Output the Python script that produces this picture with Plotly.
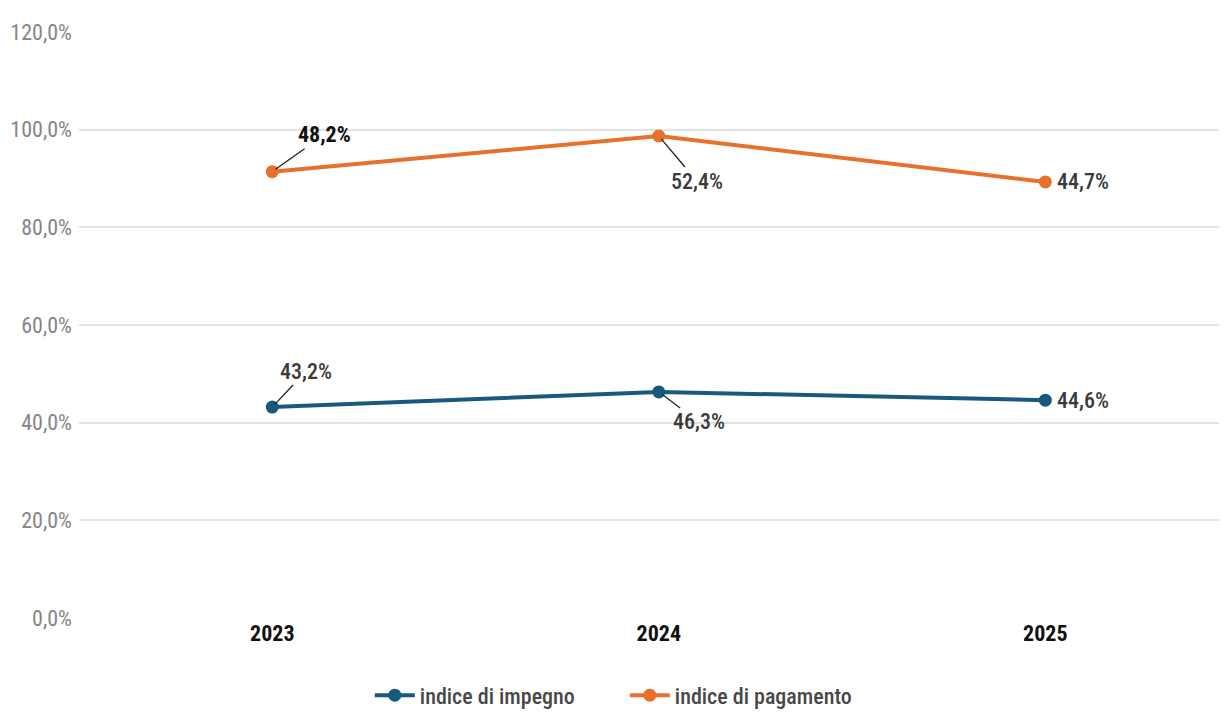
import plotly.graph_objects as go

anni = ["2023", "2024", "2025"]
impegno = [43.2, 46.3, 44.6]
pagamento = [48.2, 52.4, 44.7]
y_ticks = [0, 20, 40, 60, 80, 100, 120]
y_tick_text = ["0,0%", "20,0%", "40,0%", "60,0%", "80,0%", "100,0%", "120,0%"]

blu = "#19597d"
arancio = "#e8702a"
font_narrow = "Roboto Condensed, Arial Narrow, sans-serif"

fig = go.Figure()

fig.add_trace(go.Scatter(
    x=anni, y=impegno, name="indice di impegno",
    mode="lines+markers", stackgroup="uno", fill="none",
    line=dict(color=blu, width=4), marker=dict(size=13, color=blu),
))
fig.add_trace(go.Scatter(
    x=anni, y=pagamento, name="indice di pagamento",
    mode="lines+markers", stackgroup="uno", fill="none",
    line=dict(color=arancio, width=4), marker=dict(size=13, color=arancio),
))

# etichette (le serie sono impilate: il punto arancio sta sulla somma)
totale = [a + b for a, b in zip(impegno, pagamento)]


def fmt(v):
    return ("%.1f" % v).replace(".", ",") + "%"


offs_imp = [(34, -36), (40, 30), None]
offs_pag = [(52, -37), (38, 45), None]

annotazioni = []
for i in range(len(anni)):
    for yv, lab, off, bold in [(impegno[i], impegno[i], offs_imp[i], False),
                               (totale[i], pagamento[i], offs_pag[i], i == 0)]:
        col = "#111111" if bold else "#3a3a3a"
        a = dict(x=i, y=yv, xref="x", yref="y", text=fmt(lab),
                 font=dict(size=22, color=col, family=font_narrow,
                           weight="bold" if bold else 500))
        if off is None:
            a.update(showarrow=False, xanchor="left", xshift=10)
        else:
            a.update(showarrow=True, ax=off[0], ay=off[1], arrowhead=0,
                     arrowwidth=1.3, arrowcolor="#222222", standoff=4)
        annotazioni.append(a)

fig.update_layout(
    width=1219, height=705,
    margin=dict(l=71, r=0, t=24, b=95),
    plot_bgcolor="white", paper_bgcolor="white",
    annotations=annotazioni,
    showlegend=True,
    legend=dict(orientation="h", xref="container", yref="container",
                x=0.506, xanchor="center", y=0.025, yanchor="middle",
                entrywidth=200, itemwidth=40,
                font=dict(size=22, color="#484848", family=font_narrow, weight=500)),
    xaxis=dict(type="category", range=[-0.5, 2.47], showgrid=False, showline=False,
               tickfont=dict(size=22, color="#111111", family=font_narrow, weight="bold"),
               tickvals=anni, ticktext=anni),
    yaxis=dict(range=[0, 120], tickvals=y_ticks, ticktext=y_tick_text,
               showgrid=True, gridcolor="#e3e3e3", gridwidth=2,
               zeroline=False, showline=False, ticklabelstandoff=6,
               tickfont=dict(size=22, color="#858585", family=font_narrow)),
)

fig.write_html("out.html")
